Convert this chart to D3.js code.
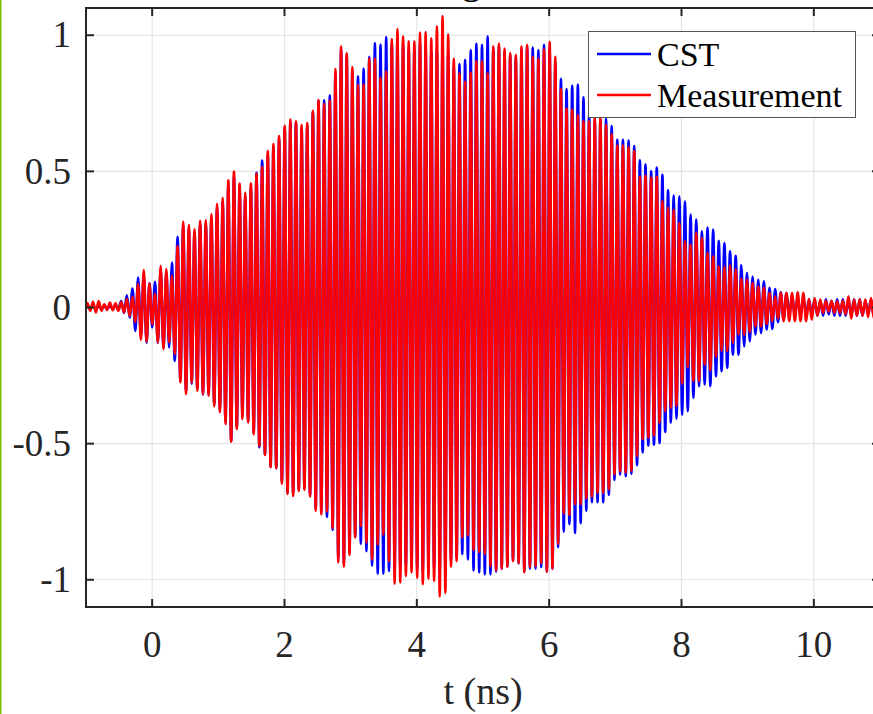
<!DOCTYPE html>
<html>
<head>
<meta charset="utf-8">
<script src="https://cdn.jsdelivr.net/npm/d3@7/dist/d3.min.js"></script>
<style>
body{margin:0;background:#fff;}
svg{display:block;font-family:"Liberation Serif","Times New Roman",serif;}
</style>
</head>
<body>
<svg width="873" height="714"></svg>
<script>
// peak / trough values of each carrier cycle
var measPeaks = [0.016,0.021,0.024,0.012,0.018,0.015,0.020,0.031,0.039,
 0.086,0.138,0.088,0.050,0.153,0.141,0.116,0.226,0.315,0.303,0.287,0.318,0.320,0.342,0.381,0.403,0.467,0.499,0.455,0.422,0.455,0.491,0.516,0.575,
 0.600,0.630,
 0.667,0.690,0.684,0.670,0.677,0.722,0.762,0.747,0.761,0.876,0.959,0.935,0.883,0.817,0.819,0.914,0.914,0.844,0.867,0.986,1.023,0.996,0.978,0.978,1.010,1.012,0.989,1.033,1.070,1.003,0.914,0.860,0.830,0.863,0.905,0.904,0.860,
 0.959,0.969,0.951,0.935,0.928,0.959,0.965,0.921,0.914,0.948,0.976,0.921,0.802,0.731,0.727,0.707,0.684,0.684,0.697,0.697,0.670,0.636,0.595,0.595,0.589,0.575,0.480,0.484,0.476,0.480,0.392,0.367,0.358,0.310,0.243,
 0.231,0.274,0.255,0.200,0.188,0.151,0.150,0.155,0.140,0.105,0.102,0.090,0.078,0.072,0.053,0.041,0.053,0.053,0.053,0.056,0.053,0.031,0.035,0.029,0.025,0.025,0.023,0.025,0.041,0.029,0.029,0.029,0.035,0.040];
var measTroughs = [-0.012,-0.018,-0.012,-0.009,-0.010,-0.012,-0.018,-0.031,-0.053,-0.119,-0.126,-0.061,-0.128,-0.153,-0.128,-0.171,-0.275,-0.318,-0.275,-0.306,-0.318,-0.324,-0.363,-0.385,-0.428,-0.493,-0.446,-0.409,-0.422,-0.465,-0.508,-0.542,-0.587,-0.590,
 -0.647,-0.685,-0.692,-0.674,-0.670,-0.694,-0.746,-0.760,-0.749,-0.810,-0.936,-0.952,-0.909,-0.844,-0.803,-0.864,-0.925,-0.871,-0.834,-0.932,-1.014,-1.010,-0.986,-0.973,-0.993,-1.016,-0.996,-1.004,-1.061,-1.048,-0.952,-0.932,-0.844,-0.837,-0.891,-0.898,-0.905,
 -0.950,-0.966,-0.959,-0.953,-0.932,-0.939,-0.973,-0.953,-0.950,-0.939,-0.970,-0.959,-0.868,-0.756,-0.762,-0.722,-0.722,-0.701,-0.694,-0.681,-0.681,-0.667,-0.613,-0.602,-0.606,-0.599,-0.545,-0.484,-0.477,-0.470,-0.423,-0.382,-0.369,-0.362,-0.280,-0.219,
 -0.270,-0.270,-0.210,-0.230,-0.180,-0.160,-0.160,-0.130,-0.100,-0.100,-0.090,-0.070,-0.070,-0.060,-0.050,-0.040,-0.050,-0.050,-0.050,-0.050,-0.050,-0.045,-0.030,-0.020,-0.015,-0.020,-0.020,-0.025,-0.040,-0.030,-0.030,-0.035,-0.040,-0.040];
var cstPeaks = [0.005,0.005,0.005,0.005,0.006,0.008,0.024,0.045,0.070,0.110,0.120,0.090,0.094,0.140,0.130,0.165,0.260,0.300,0.290,0.280,0.310,0.310,0.330,0.370,0.390,0.450,0.480,0.440,0.410,0.440,0.495,0.540,0.560,0.590,0.620,
 0.660,0.680,0.680,0.660,0.670,0.720,0.760,0.761,0.779,0.860,0.950,0.930,0.870,0.849,0.878,0.921,0.971,0.966,0.993,0.970,0.990,0.970,0.950,0.950,0.970,0.960,0.940,0.950,0.960,0.940,0.890,0.894,0.910,0.946,0.969,0.965,0.996,
 0.950,0.960,0.940,0.930,0.920,0.950,0.960,0.955,0.946,0.965,0.950,0.900,0.840,0.802,0.815,0.819,0.772,0.711,0.690,0.690,0.693,0.666,0.616,0.616,0.613,0.593,0.541,0.525,0.500,0.514,0.487,0.430,0.412,
 0.408,0.390,0.341,0.323,0.280,0.294,0.286,0.245,0.237,0.206,0.190,0.155,0.127,0.114,0.102,0.096,0.072,0.068,0.056,0.053,
 0.045,0.040,0.035,0.030,0.030,0.025,0.030,0.025,0.030,0.030,0.025,0.030,0.030,0.025,0.030,0.030];
var cstTroughs = [-0.005,-0.005,-0.005,-0.005,-0.005,-0.006,-0.020,-0.037,-0.086,-0.104,-0.130,-0.073,-0.130,-0.150,-0.147,-0.196,-0.270,-0.310,-0.280,-0.300,-0.320,-0.320,-0.360,-0.380,-0.420,-0.490,-0.440,-0.400,-0.420,-0.460,-0.513,-0.540,-0.585,-0.590,
 -0.640,-0.680,-0.680,-0.670,-0.660,-0.690,-0.740,-0.750,-0.769,-0.817,-0.920,-0.940,-0.900,-0.844,-0.868,-0.895,-0.948,-0.978,-0.978,-0.968,-0.960,-0.960,-0.950,-0.950,-0.960,-0.970,-0.950,-0.960,-0.970,-0.960,-0.930,-0.920,-0.905,-0.925,-0.966,-0.973,-0.980,
 -0.980,-0.970,-0.960,-0.950,-0.930,-0.940,-0.970,-0.959,-0.959,-0.953,-0.970,-0.960,-0.880,-0.823,-0.796,-0.828,-0.792,-0.746,-0.715,-0.715,-0.715,-0.688,-0.633,-0.613,-0.620,-0.610,-0.579,-0.532,-0.507,-0.504,-0.498,-0.457,-0.423,-0.409,
 -0.394,-0.381,-0.332,-0.289,-0.283,-0.289,-0.253,-0.234,-0.222,-0.173,-0.173,-0.143,-0.124,-0.099,-0.094,-0.081,-0.079,-0.054,-0.045,-0.032,
 -0.030,-0.030,-0.025,-0.025,-0.030,-0.030,-0.025,-0.030,-0.030,-0.030,-0.025,-0.030,-0.030,-0.025,-0.030,-0.030];
var tFirst = -0.979, tCycle = 0.0852;   // time of first peak and carrier period (ns)
var xTicks = [0,2,4,6,8,10];
var yTicks = [-1,-0.5,0,0.5,1];
var yTickLabels = ['-1','-0.5','0','0.5','1'];
var seriesNames = ['CST','Measurement'];
var seriesColors = ['#0000ff','#ff0000'];

var svg = d3.select('svg');
var x = d3.scaleLinear().domain([-1,11]).range([86,880]);
var y = d3.scaleLinear().domain([-1.1,1.1]).range([607,8]);

function toPoints(peaks, troughs){
  var pts = [[-1,0]];
  for(var k=0;k<peaks.length;k++){
    pts.push([tFirst+k*tCycle, peaks[k]]);
    if(k<troughs.length) pts.push([tFirst+(k+0.5)*tCycle, troughs[k]]);
  }
  return pts;
}

// left green strip
svg.append('rect').attr('x',0).attr('y',0).attr('width',1.5).attr('height',714).attr('fill','#7ac000');

// title (only the descender peeks in)
svg.append('text').attr('x',479).attr('y',-7).attr('text-anchor','middle').attr('font-size',40).attr('fill','#000').text('Signal');

// grid
var grid = svg.append('g').attr('stroke','#e3e3e3').attr('stroke-width',1.2);
grid.selectAll('.gx').data(xTicks).enter().append('line')
  .attr('x1',function(d){return x(d);}).attr('x2',function(d){return x(d);})
  .attr('y1',8).attr('y2',607);
grid.selectAll('.gy').data(yTicks).enter().append('line')
  .attr('y1',function(d){return y(d);}).attr('y2',function(d){return y(d);})
  .attr('x1',86).attr('x2',880);

svg.append('clipPath').attr('id','clip').append('rect').attr('x',86).attr('y',8).attr('width',794).attr('height',599);

var line = d3.line().x(function(d){return x(d[0]);}).y(function(d){return y(d[1]);}).curve(d3.curveMonotoneX);
var plot = svg.append('g').attr('clip-path','url(#clip)');
plot.append('path').attr('d',line(toPoints(cstPeaks,cstTroughs))).attr('fill','none').attr('stroke',seriesColors[0]).attr('stroke-width',2.6);
plot.append('path').attr('d',line(toPoints(measPeaks,measTroughs))).attr('fill','none').attr('stroke',seriesColors[1]).attr('stroke-width',2.6);

// axes box and ticks
var ax = svg.append('g').attr('stroke','#262626').attr('stroke-width',2).attr('fill','none');
ax.append('rect').attr('x',86).attr('y',8).attr('width',794).attr('height',599);
xTicks.forEach(function(d){
  ax.append('line').attr('x1',x(d)).attr('x2',x(d)).attr('y1',607).attr('y2',599);
  ax.append('line').attr('x1',x(d)).attr('x2',x(d)).attr('y1',8).attr('y2',16);
});
yTicks.forEach(function(d){
  ax.append('line').attr('y1',y(d)).attr('y2',y(d)).attr('x1',86).attr('x2',94);
  ax.append('line').attr('y1',y(d)).attr('y2',y(d)).attr('x1',880).attr('x2',872);
});

var tickFont = 37;
svg.selectAll('.xl').data(xTicks).enter().append('text')
  .attr('x',function(d){return x(d);}).attr('y',657).attr('text-anchor','middle')
  .attr('font-size',tickFont).attr('fill','#262626').text(function(d){return d;});
svg.selectAll('.yl').data(yTicks).enter().append('text')
  .attr('x',71).attr('y',function(d){return y(d)+tickFont*0.33;}).attr('text-anchor','end')
  .attr('font-size',tickFont).attr('fill','#262626').text(function(d,i){return yTickLabels[i];});

svg.append('text').attr('x',483).attr('y',704).attr('text-anchor','middle').attr('font-size',38).attr('fill','#262626').text('t (ns)');

// legend
var lg = svg.append('g');
lg.append('rect').attr('x',588.5).attr('y',31.5).attr('width',267).attr('height',86).attr('fill','#fff').attr('stroke','#555').attr('stroke-width',1);
seriesNames.forEach(function(n,i){
  var yy = 54 + i*41;
  lg.append('line').attr('x1',597).attr('x2',651).attr('y1',yy).attr('y2',yy).attr('stroke',seriesColors[i]).attr('stroke-width',2.6);
  lg.append('text').attr('x',657).attr('y',yy+12).attr('font-size',34).attr('fill','#000').text(n);
});
</script>
</body>
</html>
